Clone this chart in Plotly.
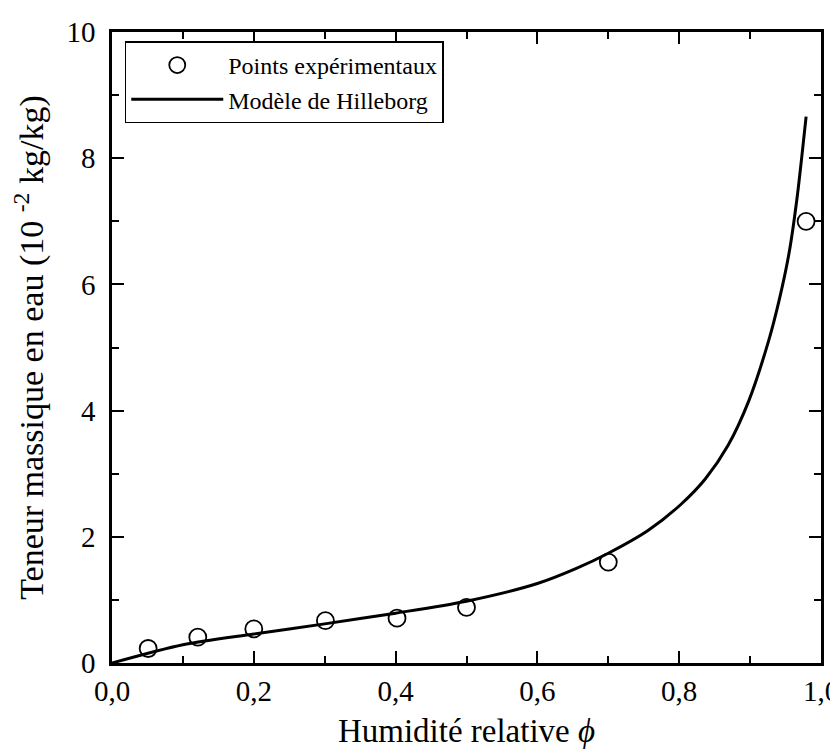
import plotly.graph_objects as go

# Experimental points
exp_x = [0.051, 0.121, 0.2, 0.301, 0.402, 0.5, 0.7, 0.979]
exp_y = [0.23, 0.41, 0.54, 0.67, 0.71, 0.88, 1.60, 7.0]

# Hillerborg model curve
mod_x = [0, 0.1, 0.2, 0.3, 0.4, 0.5, 0.6, 0.655, 0.7, 0.756, 0.803, 0.837,
         0.869, 0.898, 0.926, 0.941, 0.955, 0.966, 0.979]
mod_y = [0, 0.29, 0.46, 0.62, 0.79, 0.98, 1.26, 1.5, 1.74, 2.1, 2.52, 2.92,
         3.45, 4.15, 5.1, 5.75, 6.5, 7.35, 8.66]

x_ticks = [0, 0.2, 0.4, 0.6, 0.8, 1.0]
y_ticks = [0, 2, 4, 6, 8, 10]

FONT = '"Liberation Serif", "Times New Roman", "DejaVu Serif", serif'

fig = go.Figure()
fig.add_trace(go.Scatter(
    x=exp_x, y=exp_y, mode="markers", name="Points expérimentaux",
    marker=dict(symbol="circle-open", size=17, color="black",
                line=dict(width=1.8, color="black")),
))
fig.add_trace(go.Scatter(
    x=mod_x, y=mod_y, mode="lines", name="Modèle de Hilleborg",
    line=dict(color="black", width=3, shape="spline", smoothing=0.8),
))

axis_common = dict(
    showline=True, linecolor="black", linewidth=2.5, mirror="allticks",
    ticks="inside", ticklen=12, tickwidth=2, tickcolor="black",
    showgrid=False, zeroline=False,
    tickfont=dict(family=FONT, size=29, color="black"),
)

fig.update_xaxes(
    range=[0, 1.0], tickvals=x_ticks, tickformat=".1f", ticklabelstandoff=0,
    minor=dict(dtick=0.1, ticks="inside", ticklen=7, tickwidth=1.5, tickcolor="black"),
    title=dict(text="Humidité relative <i>ϕ</i>" + "\u00a0" * 8,
               font=dict(family=FONT, size=33, color="black"), standoff=14),
    **axis_common,
)
fig.update_yaxes(
    range=[0, 10], tickvals=y_ticks, ticklabelstandoff=8,
    minor=dict(dtick=1, ticks="inside", ticklen=7, tickwidth=1.5, tickcolor="black"),
    title=dict(text="Teneur massique en eau (10 <sup>-2</sup> kg/kg)",
               font=dict(family=FONT, size=34, color="black"), standoff=22),
    **axis_common,
)

fig.update_layout(
    width=838, height=751,
    margin=dict(l=104, r=25, t=24, b=96, autoexpand=False),
    paper_bgcolor="white", plot_bgcolor="white",
    separators=", ",
    showlegend=True,
    legend=dict(
        x=0.018, y=0.985, xanchor="left", yanchor="top",
        bgcolor="white", bordercolor="black", borderwidth=1.5,
        font=dict(family=FONT, size=24, color="black"),
        itemwidth=92, tracegroupgap=0,
    ),
)

fig.write_html("out.html")
